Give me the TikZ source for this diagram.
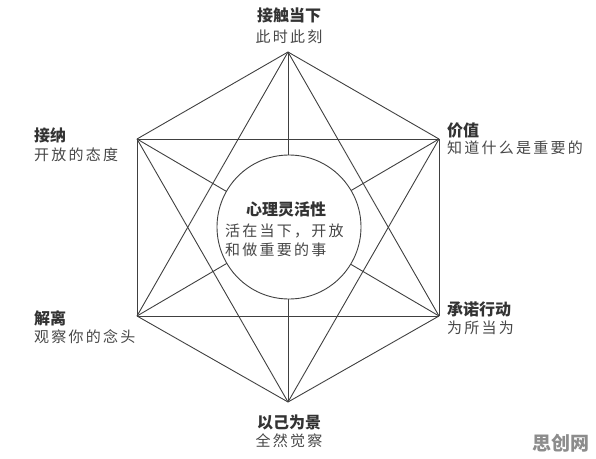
\documentclass[tikz,border=0pt]{standalone}
\usepackage{fontspec}
\setmainfont{Noto Sans CJK SC}
\newfontfamily\subfont[LetterSpace=15]{Noto Sans CJK SC}

\begin{document}
\begin{tikzpicture}[x=1pt,y=-1pt,
  title/.style={font=\fontsize{16}{18}\selectfont\bfseries, text=black!80, inner sep=0pt},
  sub/.style={font=\subfont\fontsize{15}{19}\selectfont, text=black!72, inner sep=0pt},
  edge/.style={draw=black!75, line width=0.9pt}]
\useasboundingbox (0,0) rectangle (596,458);

% hexagon corners
\coordinate (v1) at (288,52);
\coordinate (v2) at (439,139);
\coordinate (v3) at (439,316);
\coordinate (v4) at (288,402);
\coordinate (v5) at (137,316);
\coordinate (v6) at (137,139);

\foreach \i in {1,...,5}{
  \pgfmathtruncatemacro\k{\i+1}
  \foreach \j in {\k,...,6}
    \draw[edge] (v\i) -- (v\j);
}

\node[circle, edge, fill=white, minimum size=144pt, inner sep=0pt] (core) at (289,227) {};
\node[title] (coretitle) at (286,209) {心理灵活性};
\node[sub, anchor=west, align=left] (coretext) at (225,240) {活在当下，开放\\和做重要的事};

\node[title] (contact) at (289,15) {接触当下};
\node[sub] (contactsub) at (289,37) {此时此刻};

\node[title, anchor=west] (value) at (447,130) {价值};
\node[sub, anchor=west] (valuesub) at (447,148) {知道什么是重要的};

\node[title, anchor=west] (action) at (447,309) {承诺行动};
\node[sub, anchor=west] (actionsub) at (447,328) {为所当为};

\node[title] (self) at (289,422) {以己为景};
\node[sub] (selfsub) at (289,441) {全然觉察};

\node[title, anchor=west] (defuse) at (34,318) {解离};
\node[sub, anchor=west] (defusesub) at (34,337) {观察你的念头};

\node[title, anchor=west] (accept) at (34,135) {接纳};
\node[sub, anchor=west] (acceptsub) at (34,155) {开放的态度};

\node[font=\fontsize{19}{20}\selectfont\bfseries, text=black!45] (mark) at (561,443) {思创网};
\end{tikzpicture}
\end{document}
